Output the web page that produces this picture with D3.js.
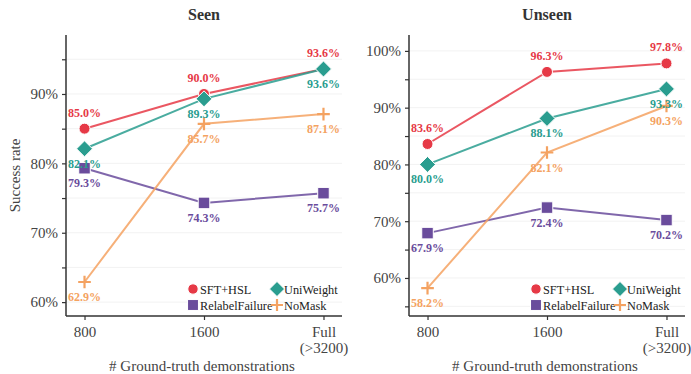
<!DOCTYPE html>
<html>
<head>
<meta charset="utf-8">
<script src="https://cdn.jsdelivr.net/npm/d3@7"></script>
<style>
  body { margin: 0; background: #fff; }
  svg, svg text { font-family: "Liberation Serif", serif !important; }
</style>
</head>
<body>
<svg id="chart" width="691" height="374"></svg>
<script>
// data
const categories = ["800", "1600", "Full"];
const seriesNames = ["SFT+HSL", "UniWeight", "RelabelFailure", "NoMask"];
const seriesColors = ["#e63946", "#2a9d8f", "#6a4c9c", "#f4a261"];
const seriesShapes = ["circle", "diamond", "square", "plus"];
const labelAbove = [true, false, false, false];

const seenSFT = [85.0, 90.0, 93.6];
const seenUni = [82.1, 89.3, 93.6];
const seenRelabel = [79.3, 74.3, 75.7];
const seenNoMask = [62.9, 85.7, 87.1];

const unseenSFT = [83.6, 96.3, 97.8];
const unseenUni = [80.0, 88.1, 93.3];
const unseenRelabel = [67.9, 72.4, 70.2];
const unseenNoMask = [58.2, 82.1, 90.3];

const seenTicks = [60, 65, 70, 75, 80, 85, 90, 95];
const unseenTicks = [55, 60, 65, 70, 75, 80, 85, 90, 95, 100];

const panels = [
  { title: "Seen", x0: 66, x1: 342, domain: [58, 98.5], ticks: seenTicks,
    series: [seenSFT, seenUni, seenRelabel, seenNoMask], ylabel: true },
  { title: "Unseen", x0: 409, x1: 685, domain: [53.3, 102.8], ticks: unseenTicks,
    series: [unseenSFT, unseenUni, unseenRelabel, unseenNoMask], ylabel: false }
];

const svg = d3.select("#chart").attr("font-family", "Liberation Serif");
const plotTop = 35, plotBottom = 316;
const serif = "Liberation Serif";

function drawMarker(g, shape, color, cx, cy, s) {
  if (shape === "circle") {
    g.append("circle").attr("cx", cx).attr("cy", cy).attr("r", s)
      .attr("fill", color).attr("stroke", "#fff").attr("stroke-width", 1);
  } else if (shape === "diamond") {
    const d = s * 1.45;
    g.append("path")
      .attr("d", `M${cx},${cy - d}L${cx + d},${cy}L${cx},${cy + d}L${cx - d},${cy}Z`)
      .attr("fill", color).attr("stroke", "#fff").attr("stroke-width", 1);
  } else if (shape === "square") {
    const h = s * 1.05;
    g.append("rect").attr("x", cx - h).attr("y", cy - h)
      .attr("width", 2 * h).attr("height", 2 * h)
      .attr("fill", color).attr("stroke", "#fff").attr("stroke-width", 1);
  } else {
    const h = s * 1.15;
    g.append("path")
      .attr("d", `M${cx - h},${cy}L${cx + h},${cy}M${cx},${cy - h}L${cx},${cy + h}`)
      .attr("stroke", color).attr("stroke-width", 2.2).attr("fill", "none");
  }
}

panels.forEach(function (p) {
  const x = d3.scalePoint().domain(categories).range([p.x0, p.x1]).padding(0.155);
  const y = d3.scaleLinear().domain(p.domain).range([plotBottom, plotTop]);
  const g = svg.append("g");

  // grid
  g.selectAll("line.grid")
    .data(p.ticks)
    .join("line")
    .attr("class", "grid")
    .attr("x1", p.x0).attr("x2", p.x1)
    .attr("y1", d => y(d)).attr("y2", d => y(d))
    .attr("stroke", "#f2f2f2").attr("stroke-width", 1);

  // y axis
  const yAxis = g.append("g")
    .attr("transform", `translate(${p.x0},0)`)
    .call(d3.axisLeft(y).tickValues(p.ticks).tickSize(4).tickSizeOuter(0)
      .tickFormat(d => d % 10 === 0 ? d + "%" : ""));
  yAxis.attr("font-family", serif);
  yAxis.select(".domain").attr("stroke", "#333").attr("stroke-width", 1.5)
    .attr("d", `M0,${plotTop}V${plotBottom}`);
  yAxis.selectAll(".tick line").attr("stroke", "#333").attr("stroke-width", 1.2);
  yAxis.selectAll(".tick text").attr("font-size", 15).attr("fill", "#444").attr("x", -8);

  // x axis
  const xAxis = g.append("g")
    .attr("transform", `translate(0,${plotBottom})`)
    .call(d3.axisBottom(x).tickSize(4).tickSizeOuter(0).tickFormat(""));
  xAxis.attr("font-family", serif);
  xAxis.select(".domain").attr("stroke", "#333").attr("stroke-width", 1.5)
    .attr("d", `M${p.x0},0H${p.x1}`);
  xAxis.selectAll(".tick line").attr("stroke", "#333").attr("stroke-width", 1.2);
  xAxis.selectAll(".tick").each(function (d) {
    const t = d3.select(this).append("text")
      .attr("text-anchor", "middle").attr("fill", "#444")
      .attr("font-size", 15).attr("y", 21);
    t.append("tspan").attr("x", 0).text(d);
    if (d === "Full") t.append("tspan").attr("x", 0).attr("dy", 16).text("(>3200)");
  });

  // title
  g.append("text").attr("x", (p.x0 + p.x1) / 2).attr("y", 20)
    .attr("text-anchor", "middle").attr("font-size", 16).attr("font-weight", "bold")
    .attr("fill", "#333").text(p.title);

  // x label
  g.append("text").attr("x", (p.x0 + p.x1) / 2 - 2).attr("y", 371)
    .attr("text-anchor", "middle").attr("font-size", 15).attr("fill", "#444")
    .text("# Ground-truth demonstrations");

  if (p.ylabel) {
    g.append("text").attr("transform", `translate(20,${(plotTop + plotBottom) / 2}) rotate(-90)`)
      .attr("text-anchor", "middle").attr("font-size", 15).attr("fill", "#444")
      .text("Success rate");
  }

  // lines
  const line = d3.line().x((d, i) => x(categories[i])).y(d => y(d));
  const order = [0, 1, 2, 3];
  order.forEach(function (si) {
    g.append("path").datum(p.series[si])
      .attr("d", line).attr("fill", "none")
      .attr("stroke", seriesColors[si]).attr("stroke-opacity", 0.85)
      .attr("stroke-width", 2);
    p.series[si].forEach(function (v, i) {
      drawMarker(g, seriesShapes[si], seriesColors[si], x(categories[i]), y(v), 5.5);
    });
  });

  // value labels
  order.forEach(function (si) {
    g.append("g").selectAll("text")
      .data(p.series[si])
      .join("text")
      .attr("x", (d, i) => x(categories[i]))
      .attr("y", d => y(d) + (labelAbove[si] ? -12 : 19))
      .attr("text-anchor", "middle")
      .attr("font-size", 12).attr("font-weight", "bold")
      .attr("fill", seriesColors[si])
      .text(d => d.toFixed(1) + "%");
  });

  // legend
  const lx = p.x1 - 149, ly = 289;
  seriesNames.forEach(function (name, si) {
    const cx = lx + (si % 2) * 84;
    const cy = ly + Math.floor(si / 2) * 16;
    drawMarker(g, seriesShapes[si], seriesColors[si], cx, cy, 5.2);
    g.append("text").attr("x", cx + 7).attr("y", cy + 4.5)
      .attr("font-size", 12.3).attr("fill", "#222").text(name);
  });
});
</script>
</body>
</html>
